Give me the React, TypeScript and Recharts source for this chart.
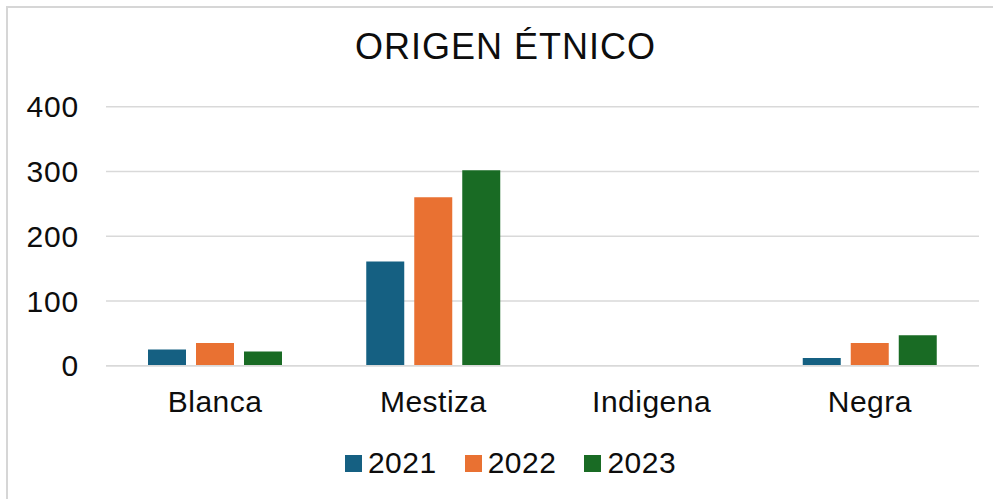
import { BarChart, Bar, XAxis, YAxis, CartesianGrid, Legend } from 'recharts'

const categories = ['Blanca', 'Mestiza', 'Indigena', 'Negra']
const values2021 = [25, 161, 0, 12]
const values2022 = [35, 260, 0, 35]
const values2023 = [22, 302, 0, 47]
const yTicks = [0, 100, 200, 300, 400]

const seriesColors: Record<string, string> = {
    '2021': '#156082',
    '2022': '#E97132',
    '2023': '#196B24',
}

const FONT = '"Liberation Sans", Arial, sans-serif'
const TEXT = '#0d0d0d'

function renderLegend(props: any) {
    const payload = props.payload || []
    return (
        <div
            style={{
                display: 'flex',
                justifyContent: 'center',
                alignItems: 'center',
                height: 40,
                paddingLeft: 62,
                fontFamily: FONT,
                fontSize: 30,
                letterSpacing: 0.5,
                color: TEXT,
            }}
        >
            {payload.map((item: any) => (
                <div key={item.value} style={{ display: 'flex', alignItems: 'center', marginRight: 28 }}>
                    <span style={{ width: 17, height: 17, background: item.color, marginRight: 6, display: 'inline-block' }} />
                    <span style={{ lineHeight: '40px' }}>{item.value}</span>
                </div>
            ))}
        </div>
    )
}

export default function App() {
    const data = categories.map((category, i) => ({
        category,
        '2021': values2021[i],
        '2022': values2022[i],
        '2023': values2023[i],
    }))

    return (
        <div
            style={{
                position: 'absolute',
                left: 6,
                top: 6,
                width: 987,
                height: 493,
                boxSizing: 'border-box',
                borderLeft: '2px solid #d6d6d6',
                borderTop: '2px solid #d6d6d6',
                background: '#fff',
                fontFamily: FONT,
            }}
        >
            {/* Title */}
            <div
                style={{
                    position: 'absolute',
                    top: 21,
                    left: 0,
                    width: '100%',
                    boxSizing: 'border-box',
                    paddingLeft: 10,
                    textAlign: 'center',
                    fontSize: 36,
                    lineHeight: '36px',
                    letterSpacing: 1,
                    color: TEXT,
                }}
            >
                ORIGEN ÉTNICO
            </div>

            <BarChart
                width={985}
                height={490}
                data={data}
                margin={{ top: 98.7, right: 14, bottom: 15, left: 0 }}
                barSize={38}
                barGap={10}
            >
                <CartesianGrid vertical={false} stroke="#d9d9d9" strokeWidth={1.5} />
                <XAxis
                    dataKey="category"
                    interval={0}
                    height={77.3}
                    axisLine={{ stroke: '#d9d9d9', strokeWidth: 1.5 }}
                    tickLine={false}
                    tickSize={0}
                    tickMargin={25}
                    tick={{ fill: TEXT, fontSize: 30, letterSpacing: 0.5, fontFamily: FONT }}
                />
                <YAxis
                    domain={[0, 400]}
                    ticks={yTicks}
                    width={98}
                    axisLine={false}
                    tickLine={false}
                    tickSize={0}
                    tickMargin={27}
                    tick={{ fill: TEXT, fontSize: 30, letterSpacing: 0.8, fontFamily: FONT }}
                />
                <Legend verticalAlign="bottom" height={40} content={renderLegend} />
                <Bar dataKey="2021" fill={seriesColors['2021']} isAnimationActive={false} />
                <Bar dataKey="2022" fill={seriesColors['2022']} isAnimationActive={false} />
                <Bar dataKey="2023" fill={seriesColors['2023']} isAnimationActive={false} />
            </BarChart>
        </div>
    )
}
